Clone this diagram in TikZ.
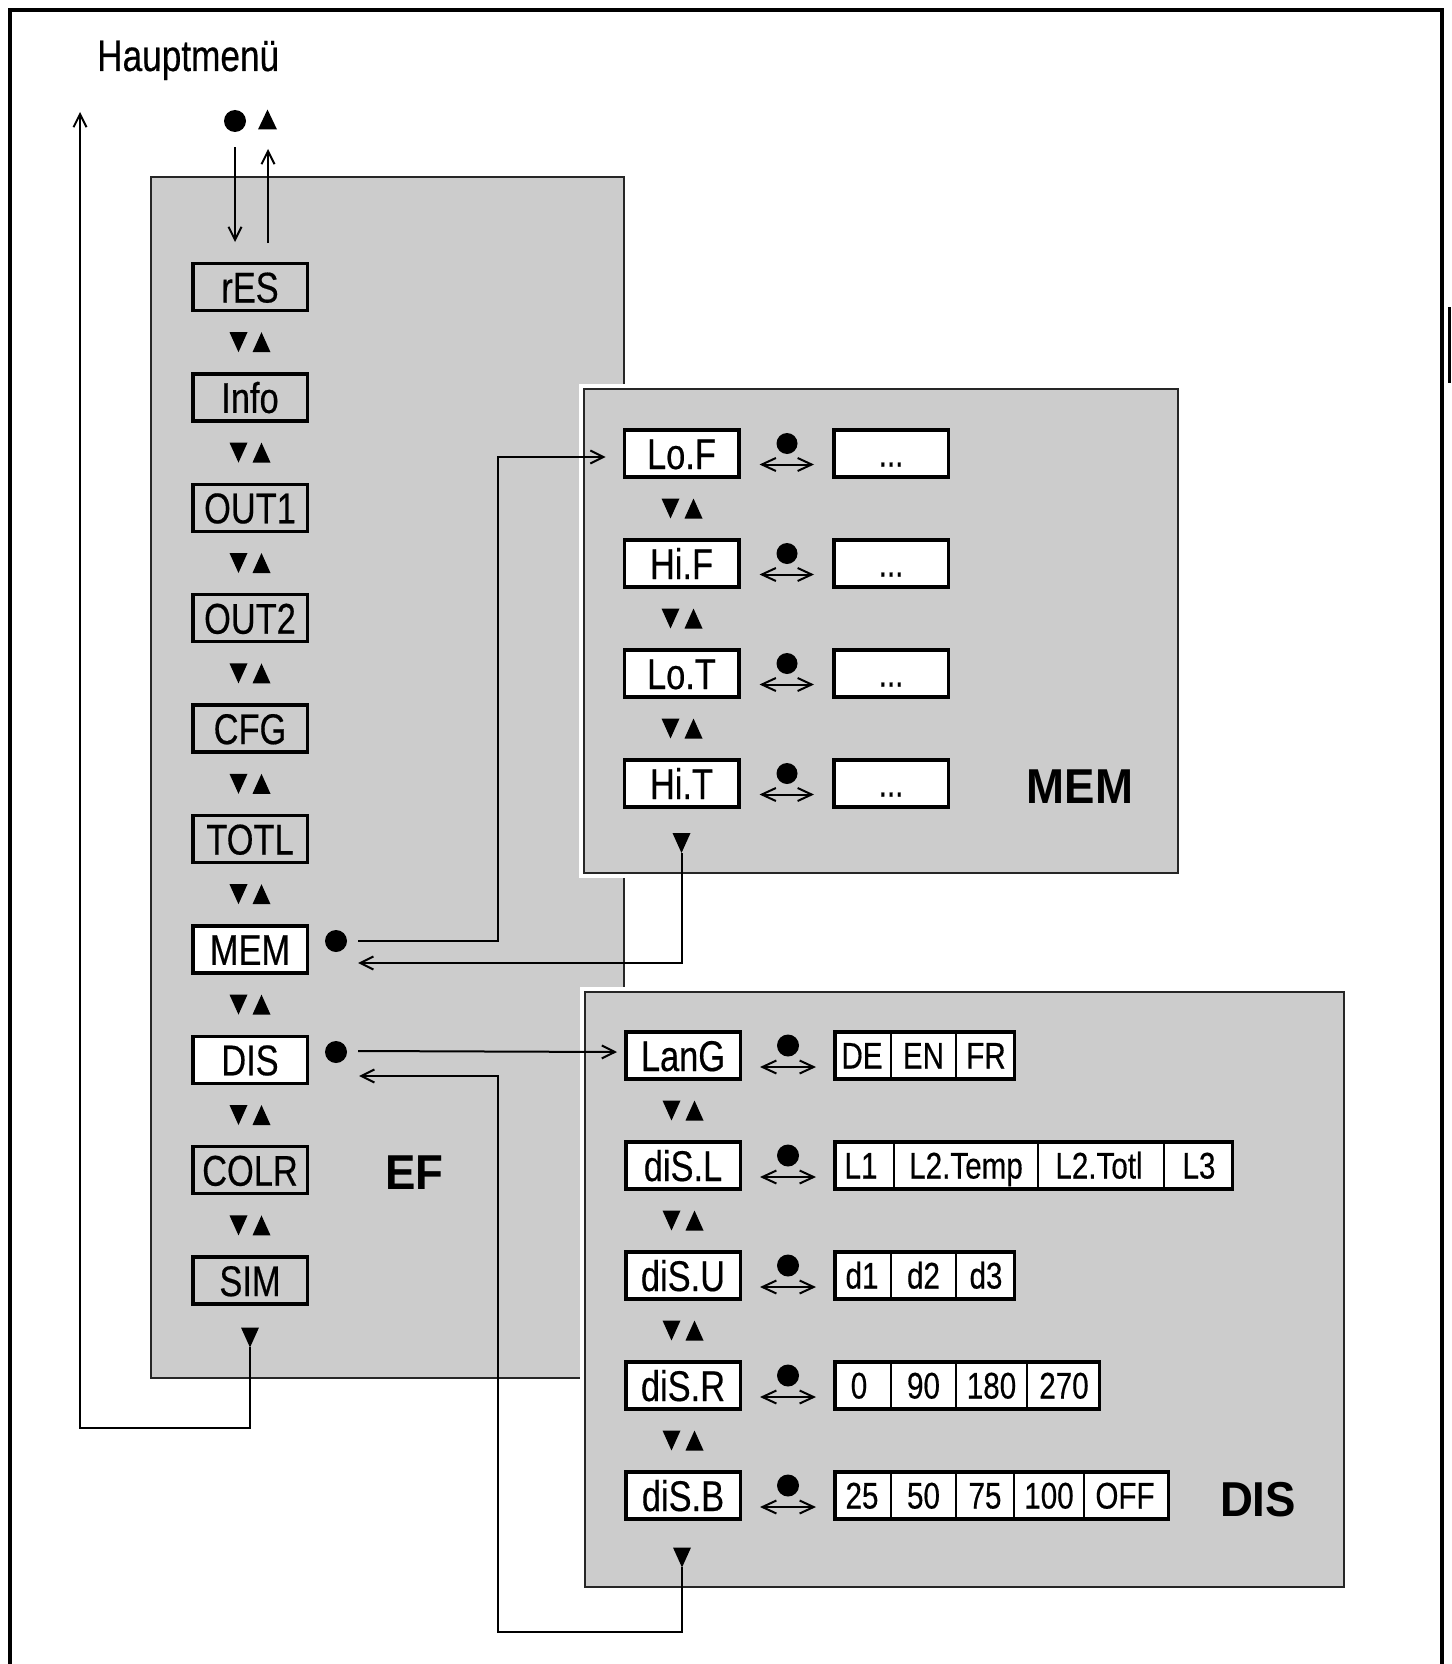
\documentclass[tikz,border=0pt]{standalone}
\usepackage{fontspec}
\setmainfont{Liberation Sans}
\newfontfamily\narrowf[FakeStretch=0.8,FakeBold=0.4]{Liberation Sans}
\newfontfamily\boldf[FakeStretch=0.93]{Liberation Sans}
\usetikzlibrary{arrows.meta}
\definecolor{panel}{HTML}{CCCCCC}
\tikzset{
  mbox/.style={draw, line width=3.5pt, fill=panel, minimum width=114.5pt, minimum height=47pt, inner sep=0pt,
    font=\narrowf\fontsize{43pt}{48pt}\selectfont, text height=31pt, text depth=0pt},
  wbox/.style={mbox, fill=white},
  vbox/.style={draw, line width=3.5pt, fill=white, minimum height=47pt, inner sep=0pt},
  cell/.style={inner sep=0pt, font=\narrowf\fontsize{37pt}{42pt}\selectfont, text height=26pt, text depth=0pt},
  divider/.style={line width=1.8pt},
  conn/.style={line width=2pt, -{Straight Barb[length=13pt,width=13pt]}},
  dbl/.style={line width=2pt, {Straight Barb[length=14pt,width=13pt]}-{Straight Barb[length=14pt,width=13pt]}},
  dotnode/.style={circle, fill, inner sep=0pt, minimum size=#1},
  panelbox/.style={fill=panel, draw=black!85, line width=1.5pt},
  biglbl/.style={inner sep=0pt, font=\boldf\bfseries\fontsize{49pt}{55pt}\selectfont, text height=35pt, text depth=0pt},
  tdown/.pic={\fill (-9,-10) -- (9,-10) -- (0,10) -- cycle;},
  tup/.pic={\fill (-9.5,10) -- (9.5,10) -- (0,-10) -- cycle;},
  updown/.pic={\fill (-20.5,-10) -- (-2.5,-10) -- (-11.5,10) -- cycle;
               \fill (2.5,10) -- (20.5,10) -- (11.5,-10) -- cycle;},
}
\begin{document}
\begin{tikzpicture}[x=1pt,y=-1pt]
\useasboundingbox (0,0) rectangle (1451,1664);
% outer frame
\draw[line width=4pt] (10,1664) -- (10,10) -- (1442,10) -- (1442,1664);
\fill (1448,307) rectangle (1451,383);
% title
\node[anchor=base west, inner sep=0pt, font=\narrowf\fontsize{44pt}{48pt}\selectfont] (title) at (97,71) {Hauptmenü};
% panels
\draw[panelbox] (151,177) rectangle (624,1378);
\fill[white] (579,384) rectangle (1183,878);
\draw[panelbox] (584,389) rectangle (1178,873);
\fill[white] (580,987) rectangle (1349,1592);
\draw[panelbox] (585,992) rectangle (1344,1587);
% labels
\node[biglbl] (lEF) at (414.5,1171.5) {EF};
\node[biglbl] (lMEM) at (1080,785.5) {MEM};
\node[biglbl] (lDIS) at (1258,1498.5) {DIS};
% main column
\foreach \n/\t/\s [count=\i from 0] in {mrES/rES/mbox, mInfo/Info/mbox, mOUT1/OUT1/mbox, mOUT2/OUT2/mbox,
   mCFG/CFG/mbox, mTOTL/TOTL/mbox, mMEM/MEM/wbox, mDIS/DIS/wbox, mCOLR/COLR/mbox, mSIM/SIM/mbox}
  {\node[\s] (\n) at (250,{287+110.4*\i}) {\t};}
\foreach \i in {0,...,8} {\pic at (250,{342.2+110.4*\i}) {updown};}
\pic at (250,1337.5) {tdown};
% top symbols
\node[dotnode=22pt] (topdot) at (235,121) {};
\pic at (267.5,119.5) {tup};
% MEM panel
\foreach \n/\t [count=\i from 0] in {LoF/Lo.F, HiF/Hi.F, LoT/Lo.T, HiT/Hi.T}
{
  \node[wbox] (\n) at (681.5,{453.5+110*\i}) {\t};
  \node[vbox, minimum width=114.5pt] (v\n) at (891,{453.5+110*\i}) {};
  \node[cell] (c\n) at (v\n) {...};
  \node[dotnode=21pt] (d\n) at (787,{443.5+110*\i}) {};
  \draw[dbl] ([xshift=19pt,yshift=-11pt]\n.east) -- ([xshift=-18pt,yshift=-11pt]v\n.west);
}
\foreach \i in {0,1,2} {\pic at (682,{508.5+110*\i}) {updown};}
\pic at (681.5,843) {tdown};
% DIS panel
\foreach \n/\t/\c/\w [count=\i from 0] in {LanG/LanG/924.5/179.5, diSL/diS.L/1033.5/397.5, diSU/diS.U/924.5/179.5,
   diSR/diS.R/967/264.5, diSB/diS.B/1001.5/333.5}
{
  \node[wbox] (\n) at (683,{1055.5+110*\i}) {\t};
  \node[vbox, minimum width=\w pt] (v\n) at (\c,{1055.5+110*\i}) {};
  \node[dotnode=22pt] (d\n) at (788,{1045.5+110*\i}) {};
  \draw[dbl] ([xshift=18pt,yshift=-11.5pt]\n.east) -- ([xshift=-17pt,yshift=-11.5pt]v\n.west);
}
\foreach \i in {0,...,3} {\pic at (683,{1110.5+110*\i}) {updown};}
\pic at (682,1557.5) {tdown};
% value cells
\foreach \x in {891,956} {\draw[divider] (vLanG.north -| \x,0) -- (vLanG.south -| \x,0);}
\foreach \x/\t in {862/DE, 923.5/EN, 986/FR} {\node[cell] at (\x,1055.5) {\t};}
\foreach \x in {894,1038,1164} {\draw[divider] (vdiSL.north -| \x,0) -- (vdiSL.south -| \x,0);}
\foreach \x/\t in {861/L1, 966/L2.Temp, 1099/L2.Totl, 1199/L3} {\node[cell] at (\x,1165.5) {\t};}
\foreach \x in {891,956} {\draw[divider] (vdiSU.north -| \x,0) -- (vdiSU.south -| \x,0);}
\foreach \x/\t in {862/d1, 923.5/d2, 986/d3} {\node[cell] at (\x,1275.5) {\t};}
\foreach \x in {891,956,1027} {\draw[divider] (vdiSR.north -| \x,0) -- (vdiSR.south -| \x,0);}
\foreach \x/\t in {859/0, 923.5/90, 991.5/180, 1064/270} {\node[cell] at (\x,1385.5) {\t};}
\foreach \x in {891,956,1014,1084} {\draw[divider] (vdiSB.north -| \x,0) -- (vdiSB.south -| \x,0);}
\foreach \x/\t in {862/25, 923.5/50, 985/75, 1049/100, 1125/OFF} {\node[cell] at (\x,1495.5) {\t};}
% dots beside MEM and DIS
\node[dotnode=22pt] (dMEM) at (336,941) {};
\node[dotnode=22pt] (dDIS) at (336,1052) {};
% connector coordinates
\coordinate (c1) at (235,242);
\coordinate (c2) at (268,243);
\coordinate (c3) at (268,149);
\coordinate (kM) at (498,457);
\coordinate (tHiT) at (681.5,853);
\coordinate (tdiSB) at (682,1567);
\coordinate (kD) at (498,1632);
\coordinate (tSIM) at (250,1347);
\coordinate (kS) at (80,1428);
\coordinate (hm) at (80,112);
% connectors
\draw[conn] ([yshift=-15pt]topdot.south) -- (c1);
\draw[conn] (c2) -- (c3);
\draw[conn] ([xshift=11pt]dMEM.east) -| (kM) -- ([xshift=-17pt,yshift=-3.5pt]LoF.west);
\draw[conn] (tHiT) |- ([xshift=11pt,yshift=-22pt]dMEM.east);
\draw[conn] ([xshift=11pt,yshift=1pt]dDIS.east) -- ([xshift=-7pt,yshift=3.5pt]LanG.west);
\draw[conn] (tdiSB) |- (kD) |- ([xshift=12pt,yshift=-24pt]dDIS.east);
\draw[conn] (tSIM) |- (kS) -- (hm);
\end{tikzpicture}
\end{document}
